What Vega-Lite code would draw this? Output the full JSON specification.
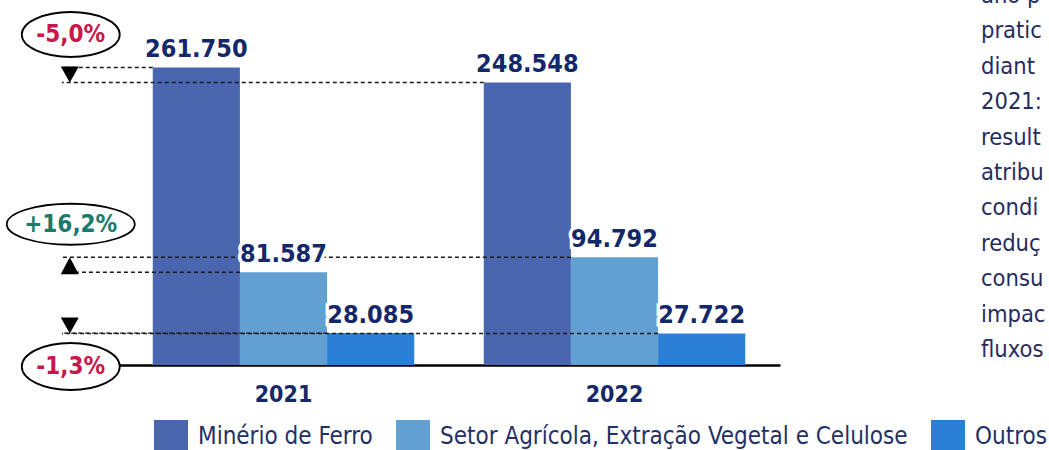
{
  "$schema": "https://vega.github.io/schema/vega-lite/v6.json",
  "width": 662,
  "height": 341,
  "autosize": {"type": "none"},
  "padding": {"left": 118, "top": 24, "right": 269, "bottom": 85},
  "background": "white",
  "config": {
    "view": {"stroke": null},
    "font": "DejaVu Sans Condensed",
    "locale": {"number": {"decimal": ",", "thousands": ".", "grouping": [3], "currency": ["R$", ""], "minus": "-"}}
  },
  "title": {
    "text": ["ano p", "pratic", "diant", "2021:", "result", "atribu", "condi", "reduç", "consu", "impac", "fluxos"],
    "orient": "bottom",
    "anchor": "end",
    "frame": "group",
    "align": "left",
    "baseline": "top",
    "offset": 0,
    "dx": 201,
    "dy": -470,
    "font": "DejaVu Sans Condensed",
    "fontSize": 23.5,
    "fontWeight": "normal",
    "color": "#272B5E",
    "lineHeight": 35.4
  },
  "datasets": {
    "exportacoes": [
      {"ano": "2021", "serie": "Minério de Ferro", "valor": 261750},
      {"ano": "2021", "serie": "Setor Agrícola, Extração Vegetal e Celulose", "valor": 81587},
      {"ano": "2021", "serie": "Outros", "valor": 28085},
      {"ano": "2022", "serie": "Minério de Ferro", "valor": 248548},
      {"ano": "2022", "serie": "Setor Agrícola, Extração Vegetal e Celulose", "valor": 94792},
      {"ano": "2022", "serie": "Outros", "valor": 27722}
    ]
  },
  "data": {"name": "exportacoes"},
  "resolve": {"scale": {"xOffset": "independent"}},
  "layer": [
    {
      "mark": {"type": "bar"},
      "encoding": {
        "x": {
          "field": "ano", "type": "nominal",
          "scale": {"paddingInner": 0.21, "paddingOuter": 0.105},
          "axis": {"title": null, "labelAngle": 0, "ticks": false, "grid": false, "domain": true, "domainColor": "#000000", "domainWidth": 2.5, "labelFont": "DejaVu Sans Condensed", "labelFontSize": 23, "labelFontWeight": "bold", "labelColor": "#14286A", "labelPadding": 18}
        },
        "xOffset": {"field": "serie", "type": "nominal", "sort": ["Minério de Ferro", "Setor Agrícola, Extração Vegetal e Celulose", "Outros"], "scale": {"paddingInner": 0, "paddingOuter": 0}},
        "y": {"field": "valor", "type": "quantitative", "scale": {"domain": [0, 300000]}, "axis": null},
        "color": {
          "field": "serie", "type": "nominal",
          "sort": ["Minério de Ferro", "Setor Agrícola, Extração Vegetal e Celulose", "Outros"],
          "scale": {"domain": ["Minério de Ferro", "Setor Agrícola, Extração Vegetal e Celulose", "Outros"], "range": ["#4A66AE", "#629FD3", "#2B7FD7"]},
          "legend": {"title": null, "orient": "none", "legendX": 36, "legendY": 396, "direction": "horizontal", "symbolType": "square", "symbolSize": 1156, "symbolStrokeWidth": 0, "labelFont": "DejaVu Sans Condensed", "labelFontSize": 24, "labelColor": "#1F3068", "labelOffset": 10, "columnPadding": 23, "labelLimit": 700, "padding": 0}
        }
      }
    },
    {
      "mark": {"type": "rule", "strokeDash": [4, 3], "strokeWidth": 1.4, "color": "#1A1A1A", "x2Offset": -221.5},
      "encoding": {
        "x": {"field": "ano", "type": "nominal", "bandPosition": 0},
        "xOffset": {"field": "serie", "type": "nominal", "scale": {"domain": ["Minério de Ferro", "Setor Agrícola, Extração Vegetal e Celulose", "Outros", "_"], "paddingInner": 1, "paddingOuter": 0}},
        "x2": {"datum": "2021"},
        "y": {"field": "valor", "type": "quantitative"}
      }
    },
    {
      "mark": {"type": "text", "font": "DejaVu Sans Condensed", "fontSize": 25, "fontWeight": "bold", "baseline": "alphabetic", "dy": -10, "fill": "white", "stroke": "white", "strokeWidth": 7},
      "encoding": {
        "x": {"field": "ano", "type": "nominal"},
        "xOffset": {"field": "serie", "type": "nominal", "sort": ["Minério de Ferro", "Setor Agrícola, Extração Vegetal e Celulose", "Outros"]},
        "y": {"field": "valor", "type": "quantitative"},
        "text": {"field": "valor", "type": "quantitative", "format": ",d"}
      }
    },
    {
      "mark": {"type": "text", "font": "DejaVu Sans Condensed", "fontSize": 25, "fontWeight": "bold", "baseline": "alphabetic", "dy": -10, "color": "#13286B"},
      "encoding": {
        "x": {"field": "ano", "type": "nominal"},
        "xOffset": {"field": "serie", "type": "nominal", "sort": ["Minério de Ferro", "Setor Agrícola, Extração Vegetal e Celulose", "Outros"]},
        "y": {"field": "valor", "type": "quantitative"},
        "text": {"field": "valor", "type": "quantitative", "format": ",d"}
      }
    },
    {
      "transform": [
        {"pivot": "ano", "value": "valor", "groupby": ["serie"]},
        {"calculate": "datum['2021']", "as": "v2021"},
        {"calculate": "datum['2022']", "as": "v2022"},
        {"calculate": "datum.v2022 / datum.v2021 - 1", "as": "variacao"}
      ],
      "mark": {"type": "point", "filled": true, "size": 4, "opacity": 1, "color": "#000000", "strokeWidth": 0, "xOffset": -83},
      "encoding": {
        "x": {"datum": "2021", "type": "nominal", "bandPosition": 0},
        "y": {"field": "v2022", "type": "quantitative"},
        "shape": {"condition": {"test": "datum.variacao < 0", "value": "M-9,-16L9,-16L0,0Z"}, "value": "M-9,17L9,17L0,0Z"}
      }
    },
    {
      "transform": [
        {"filter": "datum.serie !== 'Outros'"},
        {"pivot": "ano", "value": "valor", "groupby": ["serie"]},
        {"calculate": "max(datum['2021'], datum['2022'])", "as": "vmax"}
      ],
      "mark": {"type": "point", "filled": true, "size": 4, "opacity": 1, "fill": "white", "stroke": "#000000", "strokeWidth": 1.8, "xOffset": -82, "yOffset": -33},
      "encoding": {
        "x": {"datum": "2021", "type": "nominal", "bandPosition": 0},
        "y": {"field": "vmax", "type": "quantitative"},
        "shape": {"condition": {"test": "datum.serie === 'Setor Agrícola, Extração Vegetal e Celulose'", "value": "M-64,0A64,20.5,0,1,0,64,0A64,20.5,0,1,0,-64,0Z"}, "value": "M-49,0A49,22.5,0,1,0,49,0A49,22.5,0,1,0,-49,0Z"}
      }
    },
    {
      "transform": [
        {"filter": "datum.serie === 'Outros'"},
        {"pivot": "ano", "value": "valor", "groupby": ["serie"]},
        {"calculate": "min(datum['2021'], datum['2022'])", "as": "vmin"}
      ],
      "mark": {"type": "point", "filled": true, "size": 4, "opacity": 1, "fill": "white", "stroke": "#000000", "strokeWidth": 1.8, "xOffset": -82, "yOffset": 33, "shape": "M-49,0A49,23.5,0,1,0,49,0A49,23.5,0,1,0,-49,0Z"},
      "encoding": {
        "x": {"datum": "2021", "type": "nominal", "bandPosition": 0},
        "y": {"field": "vmin", "type": "quantitative"}
      }
    },
    {
      "transform": [
        {"filter": "datum.serie !== 'Outros'"},
        {"pivot": "ano", "value": "valor", "groupby": ["serie"]},
        {"calculate": "max(datum['2021'], datum['2022'])", "as": "vmax"},
        {"calculate": "datum['2022'] / datum['2021'] - 1", "as": "variacao"}
      ],
      "mark": {"type": "text", "font": "DejaVu Sans Condensed", "fontSize": 24, "fontWeight": "bold", "baseline": "middle", "align": "center", "xOffset": -82, "yOffset": -32},
      "encoding": {
        "x": {"datum": "2021", "type": "nominal", "bandPosition": 0},
        "y": {"field": "vmax", "type": "quantitative"},
        "text": {"field": "variacao", "type": "quantitative", "format": "+.1%"},
        "color": {"condition": {"test": "datum.variacao < 0", "value": "#C8174A"}, "value": "#1A7A6B"}
      }
    },
    {
      "transform": [
        {"filter": "datum.serie === 'Outros'"},
        {"pivot": "ano", "value": "valor", "groupby": ["serie"]},
        {"calculate": "min(datum['2021'], datum['2022'])", "as": "vmin"},
        {"calculate": "datum['2022'] / datum['2021'] - 1", "as": "variacao"}
      ],
      "mark": {"type": "text", "font": "DejaVu Sans Condensed", "fontSize": 24, "fontWeight": "bold", "baseline": "middle", "align": "center", "xOffset": -82, "yOffset": 34},
      "encoding": {
        "x": {"datum": "2021", "type": "nominal", "bandPosition": 0},
        "y": {"field": "vmin", "type": "quantitative"},
        "text": {"field": "variacao", "type": "quantitative", "format": "+.1%"},
        "color": {"condition": {"test": "datum.variacao < 0", "value": "#C8174A"}, "value": "#1A7A6B"}
      }
    }
  ]
}
